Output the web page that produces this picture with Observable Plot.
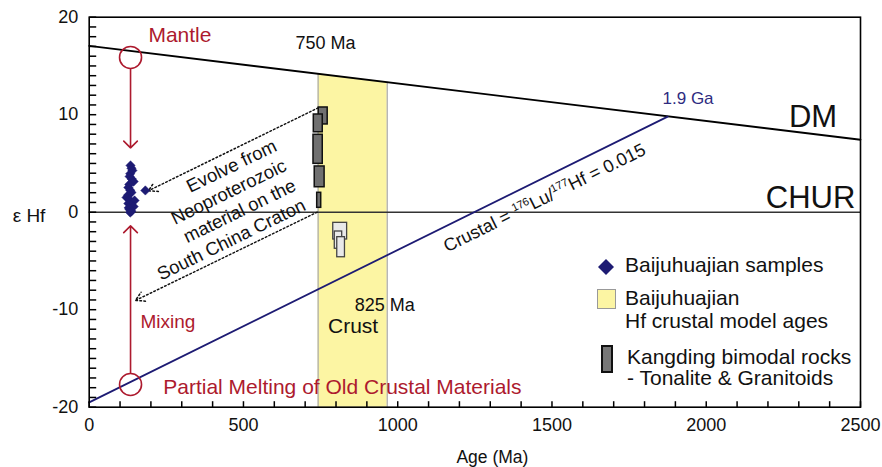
<!DOCTYPE html>
<html>
<head>
<meta charset="utf-8">
<script src="https://cdn.jsdelivr.net/npm/d3@7"></script>
<script src="https://cdn.jsdelivr.net/npm/@observablehq/plot@0.6"></script>
<style>
  html, body { margin: 0; padding: 0; background: #fff; }
  #chart { position: relative; width: 882px; height: 467px; font-family: "Liberation Sans", Arial, Helvetica, sans-serif; color: #111; }
  #chart > svg { display: block; }
  .legend { position: absolute; left: 0; top: 0; font-size: 21px; }
  .legend .lbl { position: absolute; white-space: nowrap; line-height: 21px; }
  .legend svg { position: absolute; overflow: visible; }
</style>
</head>
<body>
<div id="chart"></div>
<script>
// Baijuhuajian zircon analyses: age (Ma) and εHf(t)
const sampleAge = [134, 137, 140, 133, 131, 138, 144, 130, 127, 133, 137, 126, 121, 130, 147, 127, 136, 144, 131, 128, 137, 133, 182];
const sampleEhf = [4.79, 4.5, 4.28, 3.95, 3.66, 3.4, 3.15, 2.85, 2.53, 2.25, 2.02, 1.75, 1.51, 1.3, 1.20, 0.89, 0.75, 0.58, 0.28, 0.45, 0.1, -0.03, 2.23];

// Depleted-mantle evolution line
const dmAge = [0, 2500];
const dmEhf = [17.05, 7.43];

// Crustal evolution line (176Lu/177Hf = 0.015), meeting DM at 1.9 Ga
const crustAge = [0, 1875];
const crustEhf = [-19.5, 9.8];

// Baijuhuajian Hf crustal model-age band (top bounded by the DM line)
const bandAge = [742, 966];
const bandTop = [14.2, 13.33];

// Kangding bimodal rocks (dark: above CHUR, light: below CHUR)
const kdAgeMin = [744, 728, 727, 731, 739];
const kdAgeMax = [773, 757, 757, 763, 752];
const kdEhfMin = [9.0, 8.2, 4.96, 2.56, 0.45];
const kdEhfMax = [10.74, 10.02, 7.94, 4.69, 1.99];
const kdLightAgeMin = [791, 796, 804];
const kdLightAgeMax = [836, 820, 829];
const kdLightEhfMin = [-2.8, -3.75, -4.62];
const kdLightEhfMax = [-1.09, -1.98, -2.56];

// Source end-members (mantle, melted old crust)
const sourceAge = [134, 134];
const sourceEhf = [15.87, -17.67];

// Mixing arrows from each end-member toward the samples
const mixFromAge = [134, 134];
const mixFromEhf = [14.7, -16.5];
const mixToAge = [134, 134];
const mixToEhf = [6.6, -1.4];

// Evolution arrows from the Kangding rocks back to the samples
const evoFromAge = [742, 739];
const evoFromEhf = [10.7, 0];
const evoToAge = [192, 150];
const evoToEhf = [2.2, -9.05];

// Axis ticks
const yTicksMajor = [-20, -10, 0, 10, 20];
const yTicksMinor = [-20, -19, -18, -17, -16, -15, -14, -13, -12, -11, -10, -9, -8, -7, -6, -5, -4, -3, -2, -1,
  0, 1, 2, 3, 4, 5, 6, 7, 8, 9, 10, 11, 12, 13, 14, 15, 16, 17, 18, 19, 20];
const xTicksMajor = [0, 500, 1000, 1500, 2000, 2500];
const xTicksMinor = [0, 100, 200, 300, 400, 500, 600, 700, 800, 900, 1000, 1100, 1200, 1300, 1400, 1500,
  1600, 1700, 1800, 1900, 2000, 2100, 2200, 2300, 2400, 2500];

const NAVY = "#1d1b73";
const RED = "#ad1a2e";
const YELLOW = "#fcf5a3";
const INK = "#111";

const CRUST_LABEL = "Crustal = 176Lu/177Hf = 0.015";

const W = 882, H = 467;
const M = {left: 88.7, right: 22, top: 16.7, bottom: 60.3};
const X_DOMAIN = [0, 2500];
const Y_DOMAIN = [-20, 20];
const frameW = W - M.left - M.right;
const frameH = H - M.top - M.bottom;
// inward tick lengths (7 px on the left edge, 6 px on the bottom edge) expressed in data units
const yTickLen = 7 * (X_DOMAIN[1] - X_DOMAIN[0]) / frameW;
const xTickLen = 6 * (Y_DOMAIN[1] - Y_DOMAIN[0]) / frameH;

const samples = sampleAge.map((a, i) => ({age: a, ehf: sampleEhf[i]}));
const dm = dmAge.map((a, i) => ({age: a, ehf: dmEhf[i]}));
const crust = crustAge.map((a, i) => ({age: a, ehf: crustEhf[i]}));
const band = bandAge.map((a, i) => ({age: a, top: bandTop[i]}));
const kd = kdAgeMin.map((a, i) => ({x1: a, x2: kdAgeMax[i], y1: kdEhfMin[i], y2: kdEhfMax[i]}));
const kdLight = kdLightAgeMin.map((a, i) => ({x1: a, x2: kdLightAgeMax[i], y1: kdLightEhfMin[i], y2: kdLightEhfMax[i]}));
const sources = sourceAge.map((a, i) => ({age: a, ehf: sourceEhf[i]}));
const mixArrows = mixFromAge.map((a, i) => ({x1: a, y1: mixFromEhf[i], x2: mixToAge[i], y2: mixToEhf[i]}));
const evoArrows = evoFromAge.map((a, i) => ({x1: a, y1: evoFromEhf[i], x2: evoToAge[i], y2: evoToEhf[i]}));
const tickSegs = [
  ...yTicksMinor.map((v) => ({x1: X_DOMAIN[0], x2: X_DOMAIN[0] + yTickLen, y1: v, y2: v})),
  ...xTicksMinor.map((v) => ({x1: v, x2: v, y1: Y_DOMAIN[0], y2: Y_DOMAIN[0] + xTickLen}))
];

// Annotation text, anchored in data coordinates
const blackLabels = [
  {text: "750 Ma", age: 766, ehf: 17.38, size: 18, anchor: "middle"},
  {text: "DM", age: 2346, ehf: 9.71, size: 31, anchor: "middle"},
  {text: "CHUR", age: 2338, ehf: 1.46, size: 31, anchor: "middle"},
  {text: "825 Ma", age: 861, ehf: -9.57, size: 18, anchor: "start"},
  {text: "Crust", age: 774, ehf: -11.72, size: 21, anchor: "start"},
  {text: "ε Hf", age: -142, ehf: -0.34, size: 19, anchor: "end"}
];
const redLabels = [
  {text: "Mantle", age: 294, ehf: 18.17, size: 21, anchor: "middle"},
  {text: "Mixing", age: 166, ehf: -11.3, size: 19, anchor: "start"},
  {text: "Partial Melting of Old Crustal Materials", age: 240, ehf: -17.98, size: 21, anchor: "start"}
];

const textMark = (labels, fill) => labels.map(d =>
  Plot.text([d], {x: "age", y: "ehf", text: "text", fill, fontSize: d.size, textAnchor: d.anchor, lineAnchor: "middle"})
);

const plain = (d) => String(d);

const chart = Plot.plot({
  width: W,
  height: H,
  marginLeft: M.left,
  marginRight: M.right,
  marginTop: M.top,
  marginBottom: M.bottom,
  style: {fontFamily: "'Liberation Sans', Arial, Helvetica, sans-serif", fontSize: "18px", color: INK, background: "#fff", overflow: "visible"},
  x: {domain: X_DOMAIN},
  y: {domain: Y_DOMAIN},
  marks: [
    Plot.areaY(band, {x: "age", y1: -20, y2: "top", fill: YELLOW}),
    Plot.ruleX(band, {x: "age", y1: -20, y2: "top", stroke: "#a9a9a9", strokeWidth: 1.2}),
    Plot.ruleY([0], {stroke: "#333", strokeWidth: 1.4}),
    Plot.line(dm, {x: "age", y: "ehf", stroke: "#000", strokeWidth: 1.8}),
    Plot.line(crust, {x: "age", y: "ehf", stroke: NAVY, strokeWidth: 1.8}),
    // inward minor ticks along the left and bottom edges of the frame
    Plot.link(tickSegs, {x1: "x1", y1: "y1", x2: "x2", y2: "y2", stroke: "#000", strokeWidth: 1.5}),
    Plot.rect(kd, {x1: "x1", x2: "x2", y1: "y1", y2: "y2", fill: "#707070", stroke: INK, strokeWidth: 1.5}),
    Plot.rect(kdLight, {x1: "x1", x2: "x2", y1: "y1", y2: "y2", fill: "#e9e9e9", stroke: "#444", strokeWidth: 1.3}),
    Plot.arrow(evoArrows, {x1: "x1", y1: "y1", x2: "x2", y2: "y2", stroke: INK, strokeWidth: 1.5, strokeDasharray: "1.6,2.4", headLength: 10, headAngle: 60}),
    Plot.dot(samples, {x: "age", y: "ehf", symbol: "diamond2", r: 4.2, fill: NAVY, stroke: NAVY, strokeWidth: 0.5}),
    Plot.dot(sources, {x: "age", y: "ehf", r: 11, fill: "none", stroke: RED, strokeWidth: 1.6}),
    Plot.arrow(mixArrows, {x1: "x1", y1: "y1", x2: "x2", y2: "y2", stroke: RED, strokeWidth: 1.6, headLength: 9, headAngle: 90}),
    Plot.text([{age: 649, ehf: 3.97}], {
      x: "age", y: "ehf",
      text: () => "Evolve from\nNeoproterozoic\nmaterial on the\nSouth China Craton",
      rotate: -26, textAnchor: "end", lineAnchor: "middle", fontSize: 18.5, lineHeight: 1.19, fill: INK
    }),
    Plot.text([{age: 1476, ehf: 1.46}], {
      x: "age", y: "ehf", text: () => CRUST_LABEL,
      rotate: -26.3, textAnchor: "middle", lineAnchor: "middle", fontSize: 18, fill: INK
    }),
    Plot.text([{age: 1941, ehf: 11.63}], {x: "age", y: "ehf", text: () => "1.9 Ga", fill: "#2e2b80", fontSize: 17, lineAnchor: "middle"}),
    ...textMark(blackLabels, INK),
    ...textMark(redLabels, RED),
    Plot.text([{age: 1307, ehf: -20}], {x: "age", y: "ehf", text: () => "Age (Ma)", dy: 50.3, fontSize: 17.5, lineAnchor: "middle", fill: INK}),
    Plot.axisY(yTicksMajor, {tickSize: 0, tickPadding: 11, tickFormat: plain, label: null, fontSize: 18, fill: INK}),
    Plot.axisX(xTicksMajor, {tickSize: 0, tickPadding: 11, tickFormat: plain, label: null, fontSize: 18, fill: INK}),
    Plot.frame({stroke: "#000", strokeWidth: 1.6})
  ]
});

// Set the isotope mass numbers of the crustal label as superscripts
d3.select(chart).selectAll("text")
  .filter(function () { return this.textContent === CRUST_LABEL; })
  .each(function () {
    const t = d3.select(this);
    t.text(null);
    const parts = [["Crustal = ", 0, null], ["176", -7, 11], ["Lu/", 7, null], ["177", -7, 11], ["Hf = 0.015", 7, null]];
    for (const [s, dy, fs] of parts) {
      const sp = t.append("tspan").attr("dy", dy).text(s);
      if (fs) sp.attr("font-size", fs);
    }
  });

const root = document.getElementById("chart");
root.append(chart);

// Legend, laid out at the lower right inside the frame
const legendEntries = ["samples", "band", "rocks"];
const legendLines = [
  ["Baijuhuajian samples"],
  ["Baijuhuajian", "Hf crustal model ages"],
  ["Kangding bimodal rocks", "- Tonalite & Granitoids"]
];
const legendBaselines = [[271.7], [305, 327.3], [363.3, 385]];
const legendTextLeft = [625, 625, 627];

const legend = document.createElement("div");
legend.className = "legend";
root.append(legend);

const swatch = (kind) => {
  const ns = "http://www.w3.org/2000/svg";
  const s = document.createElementNS(ns, "svg");
  if (kind === "samples") {
    s.setAttribute("width", 16); s.setAttribute("height", 16);
    s.style.left = "598px"; s.style.top = "259px";
    const p = document.createElementNS(ns, "polygon");
    p.setAttribute("points", "8,0 16,8 8,16 0,8");
    p.setAttribute("fill", NAVY);
    s.append(p);
  } else if (kind === "band") {
    s.setAttribute("width", 19); s.setAttribute("height", 20);
    s.style.left = "596.5px"; s.style.top = "288.5px";
    const r = document.createElementNS(ns, "rect");
    r.setAttribute("x", 0.5); r.setAttribute("y", 0.5); r.setAttribute("width", 18); r.setAttribute("height", 19);
    r.setAttribute("fill", YELLOW); r.setAttribute("stroke", "#999"); r.setAttribute("stroke-width", 1);
    s.append(r);
  } else {
    s.setAttribute("width", 12); s.setAttribute("height", 28);
    s.style.left = "601px"; s.style.top = "345px";
    const r = document.createElementNS(ns, "rect");
    r.setAttribute("x", 1); r.setAttribute("y", 1); r.setAttribute("width", 10); r.setAttribute("height", 26);
    r.setAttribute("fill", "#777"); r.setAttribute("stroke", INK); r.setAttribute("stroke-width", 2);
    s.append(r);
  }
  return s;
};

legendEntries.forEach((kind, i) => {
  legend.append(swatch(kind));
  legendLines[i].forEach((line, j) => {
    const d = document.createElement("div");
    d.className = "lbl";
    d.textContent = line;
    d.style.left = legendTextLeft[i] + "px";
    d.style.top = (legendBaselines[i][j] - 17.8) + "px";
    legend.append(d);
  });
});
</script>
</body>
</html>
